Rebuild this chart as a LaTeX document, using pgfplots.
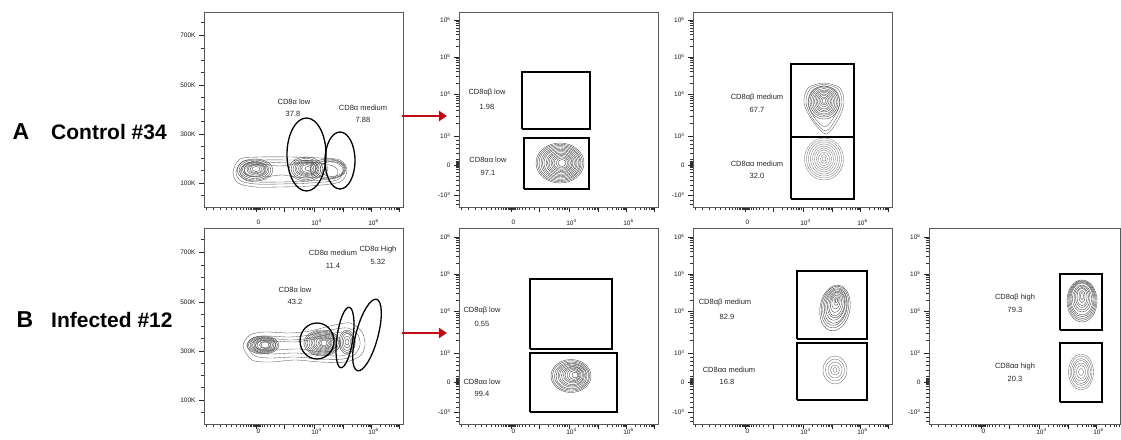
\documentclass[border=0pt]{standalone}
\usepackage{fontspec}
\setmainfont{Liberation Sans}
\usepackage{pgfplots}
\pgfplotsset{compat=1.18}
\usetikzlibrary{arrows.meta}

\pgfdeclareplotmark{ell}{%
  \pgfmathsetmacro\ecx{\elA*cos(\elR)}%
  \pgfmathsetmacro\ecy{\elA*sin(\elR)}%
  \pgfmathsetmacro\edx{-\elB*sin(\elR)}%
  \pgfmathsetmacro\edy{\elB*cos(\elR)}%
  \pgfpathellipse{\pgfpointorigin}{\pgfpoint{\ecx pt}{\ecy pt}}{\pgfpoint{\edx pt}{\edy pt}}%
  \pgfusepathqstroke}

\tikzset{lab/.style={font=\fontsize{7.5}{8}\selectfont, text=black!85, inner sep=0pt}}

\pgfplotsset{
  flowax/.style={scale only axis, anchor=north west, xmin=0, ymin=0,
    axis line style={black!65, line width=0.9pt},
    tick align=outside, xtick pos=left, ytick pos=left,
    major tick length=5pt, minor tick length=3pt,
    every tick/.append style={black!85, line width=0.6pt},
    every minor tick/.append style={black!80, line width=0.45pt},
    tick label style={font=\fontsize{6.5}{7}\selectfont, text=black!90},
    xticklabel style={xshift=2.5pt, yshift=-4pt},
    xtick={52,80,110,139,167,195},
    xticklabels={0,,10\textsuperscript{4},,10\textsuperscript{6},},
    minor xtick={2,9,16,22,27,32,36,39,42,44,46,47.5,49,50,51,53,54,55,56.5,58,60,63,66,70,75,
      88.9,94.1,97.8,100.6,103,104.9,106.6,108.1,
      118.9,124.1,127.8,130.6,133,134.9,136.6,138.1,
      147.9,153.1,156.8,159.6,162,163.9,165.6,166.5,
      175.9,181.1,184.8,187.6,190,191.9,193.6,194.5},
    clip=false},
  rowB/.style={xticklabel style={yshift=5.5pt, inner sep=1pt}},
  ylogstyle/.style={ytick={12,42,71,113,150,187},
    yticklabels={-10\textsuperscript{3},0,10\textsuperscript{3},10\textsuperscript{4},10\textsuperscript{5},10\textsuperscript{6}},
    minor ytick={3,7,17,22,27,31,35,38,39.5,40.5,41.3,42.7,43.5,44.5,46,48,54,59,63,67,
      83.6,91.1,96.3,100.4,103.7,106.5,108.9,111.1,
      124.1,130.6,135.3,138.9,141.8,144.3,146.4,148.3,
      161.1,167.6,172.3,175.9,178.8,181.3,183.4,185.3}},
  ylinstyle/.style={ytick={24,73,122,172}, yticklabels={100K,300K,500K,700K},
    minor ytick={11.7,36.3,48.5,60.8,85.3,97.5,109.8,134.5,146.8,159,184.3}},
  cont/.style={scatter, only marks, mark=ell, point meta=x,
    scatter/@pre marker code/.code={}, scatter/@post marker code/.code={},
    visualization depends on={\thisrow{a}\as\elA},
    visualization depends on={\thisrow{b}\as\elB},
    visualization depends on={\thisrow{r}\as\elR},
    draw=black!72, line width=0.38pt},
  gate/.style={cont, draw=black, line width=1.3pt},
  env/.style={smooth cycle, draw=black!65, line width=0.35pt, mark=none},
  gaterect/.style={draw=black, line width=1.15pt, mark=none}
}

\begin{document}
\begin{tikzpicture}
\path[use as bounding box] (0pt,0pt) rectangle (1121pt,-439pt);

% Row labels
\node[font=\fontsize{23}{23}\selectfont\bfseries, inner sep=0pt] at (21pt,-132pt) {A};
\node[font=\fontsize{21}{21}\selectfont\bfseries, inner sep=0pt, anchor=west] at (51pt,-132pt) {Control \#34};
\node[font=\fontsize{23}{23}\selectfont\bfseries, inner sep=0pt] at (25pt,-320pt) {B};
\node[font=\fontsize{21}{21}\selectfont\bfseries, inner sep=0pt, anchor=west] at (51pt,-320pt) {Infected \#12};

% ---------------- A1
\begin{axis}[flowax, ylinstyle, at={(204pt,-12pt)}, width=199pt, height=195pt, xmax=199, ymax=195]
\addplot[env] coordinates {(29,35) (36,48) (56,50) (86,50) (116,49) (136,47) (143,37) (136,25) (106,21) (76,20) (51,20) (34,24)};
\addplot[env] coordinates {(32,35) (39,46) (56,47) (86,47) (116,46) (133,44) (139,37) (133,27) (106,24) (76,23) (52,23) (37,26)};
\addplot[env] coordinates {(36,36) (43,44) (58,45) (86,44) (114,44) (129,41) (134,36) (129,29) (106,26) (76,25) (54,25) (41,27)};
\addplot[env] coordinates {(40,36) (46,43) (58,43) (76,41) (96,44) (116,44) (124,39) (118,31) (100,29) (78,32) (60,30) (45,31)};
\addplot[cont] table {
x y a b r
51 37 18 11 0
51 37 16 10 0
51 37 14 8.5 0
51 37.5 12.5 7.5 0
51 37.5 11 6.8 0
52 37.5 9 5.5 0
52 38 7.5 4.5 0
52 38 6 3.8 0
52 38 4 2.5 0
102 38 17 12 0
102 38 15 10.5 0
102 38 13 9 0
102.5 38.5 11.5 8 0
102.5 38.5 10 7 0
103 38.5 8.5 6 0
103 38.5 7 5 0
103 38.5 5.5 4 0
104 38.5 3 2 0
124 38 18 10 0
126 38 15 9 0
128 38 12 7.5 0
};
\addplot[gate] table {
x y a b r
102.5 52.5 19.5 36.5 0
136 46.5 15 28.5 0
};
\node[lab] at (axis cs:90,105) {CD8α low};
\node[lab] at (axis cs:89,93) {37.8};
\node[lab] at (axis cs:159,99) {CD8α medium};
\node[lab] at (axis cs:159,87) {7.88};
\end{axis}

% ---------------- A2
\begin{axis}[flowax, ylogstyle, at={(459pt,-12pt)}, width=199pt, height=195pt, xmax=199, ymax=195]
\addplot[cont] table {
x y a b r
101 44 24 20 0
101 44 22.5 18.8 0
101 44 21 17.5 0
101.5 44 19.5 16.3 0
101.5 44 18 15 0
101.5 44 16.5 13.8 0
102 44 15 12.5 0
102 44 13.5 11.3 0
102 44 12 10 0
102.5 44 10.5 8.8 0
102.5 44 9 7.5 0
102.5 44 7.5 6.3 0
103 44 6 5 0
103 44 4 3.5 0
};
\addplot[gaterect] coordinates {(63,78) (131,78) (131,135) (63,135) (63,78)};
\addplot[gaterect] coordinates {(65,18) (130,18) (130,69) (65,69) (65,18)};
\node[lab] at (axis cs:28,114) {CD8αβ low};
\node[lab] at (axis cs:28,100) {1.98};
\node[lab] at (axis cs:29,47) {CD8αα low};
\node[lab] at (axis cs:29,34) {97.1};
\end{axis}

% ---------------- A3
\begin{axis}[flowax, ylogstyle, at={(693pt,-12pt)}, width=199pt, height=195pt, xmax=199, ymax=195]
\addplot[env] coordinates {(111,104) (115,119) (131,124) (147,119) (151,104) (145,87) (133,73) (119,87)};
\addplot[env] coordinates {(113,104) (117,118) (131,122.5) (145,118) (149,104) (143,88) (132.5,76) (120,88)};
\addplot[env] coordinates {(115,104) (119,116.5) (131,121) (143,116.5) (147,104) (141,90) (132,80) (121,90)};
\addplot[cont] table {
x y a b r
131 104.5 15.5 16.5 0
131 105 14 15 0
131 105 12.5 13.5 0
131 105 11 12 0
131 105.5 9.5 10.5 0
131 105.5 8 9 0
131 105.5 6.5 7.5 0
131 106 5 6 0
131 106 3.5 4 0
131 106 2 2.5 0
};
\addplot[cont, draw=black!50] table {
x y a b r
131 48 19.5 21 0
131 48 17.5 19 0
131 48 15.5 17 0
131 48 13.5 15 0
131 48 11.5 13 0
131 48 9.5 11 0
131 48 7.5 9 0
131 48 5.5 6.5 0
131 48 3.5 4.5 0
131 48 1.8 2.2 0
};
\addplot[gaterect] coordinates {(98,70) (161,70) (161,143) (98,143) (98,70)};
\addplot[gaterect] coordinates {(98,8) (161,8) (161,70) (98,70) (98,8)};
\node[lab] at (axis cs:64,109) {CD8αβ medium};
\node[lab] at (axis cs:64,97) {67.7};
\node[lab] at (axis cs:64,43) {CD8αα medium};
\node[lab] at (axis cs:64,31) {32.0};
\end{axis}

% ---------------- B1
\begin{axis}[flowax, rowB, ylinstyle, at={(204pt,-228pt)}, width=199pt, height=196pt, xmax=199, ymax=196]
\addplot[env] coordinates {(39,78) (46,89) (61,92) (86,91) (106,93) (126,98) (146,101) (158,92) (161,79) (156,68) (141,62) (116,62) (91,64) (66,62) (48,64)};
\addplot[env] coordinates {(43,78) (49,86) (62,88) (86,87) (106,89) (126,94) (144,96) (154,89) (156,79) (151,70) (139,65) (116,65) (91,67) (66,66) (51,68)};
\addplot[env] coordinates {(47,79) (53,85) (64,86) (86,84) (108,86) (126,90) (141,92) (150,86) (151,78) (146,71) (136,68) (116,69) (91,71) (66,70) (54,72)};
\addplot[env] coordinates {(51,78) (57,83) (70,83) (90,82) (105,84) (120,86) (132,85) (137,80) (133,74) (118,72) (95,75) (72,74) (57,74)};
\addplot[cont] table {
x y a b r
59 79 16 9 0
59 79 14.5 8.2 0
59 79 13 7.5 0
60 79 11.5 6.8 0
60 79 10 6 0
60 79 8.5 5.2 0
60 79 7 4.5 0
61 79 5.5 3.7 0
61 79 4 3 0
118 81 18 13 0
118 81 16.5 12 0
118 81 15 11 0
118.5 81 13.5 10 0
119 81 12 9 0
119 81 10.5 8 0
119 81 9 7 0
119.5 81 7.5 6 0
120 81 6 5 0
120 81 4.5 4 0
120 81 3 3 0
143 82 8 12 0
143 82 6.5 10.5 0
143 82 5 8.5 0
143 82 3.5 6 0
143 82 2 3 0
};
\addplot[gate] table {
x y a b r
113 83 17 18 0
141 86.5 8 30.5 -8
163 89 11 37 -15
};
\node[lab] at (axis cs:91,134) {CD8α low};
\node[lab] at (axis cs:91,122) {43.2};
\node[lab] at (axis cs:129,171) {CD8α medium};
\node[lab] at (axis cs:129,158) {11.4};
\node[lab] at (axis cs:174,174) {CD8α High};
\node[lab] at (axis cs:174,162) {5.32};
\end{axis}

% ---------------- B2
\begin{axis}[flowax, rowB, ylogstyle, at={(459pt,-228pt)}, width=199pt, height=196pt, xmax=199, ymax=196]
\addplot[cont] table {
x y a b r
112 48 20 16.5 0
112 48 18.5 15.3 0
112.5 48 17 14 0
112.5 48 15.5 12.8 0
113 48.5 14 11.6 0
113 48.5 12.5 10.4 0
113.5 48.5 11 9.2 0
114 49 9.5 8 0
114 49 8 6.8 0
114.5 49 6.5 5.6 0
115 49 5 4.4 0
116 49 3 2.8 0
};
\addplot[gaterect] coordinates {(71,75) (153,75) (153,145) (71,145) (71,75)};
\addplot[gaterect] coordinates {(71,12) (158,12) (158,71) (71,71) (71,12)};
\node[lab] at (axis cs:23,113) {CD8αβ low};
\node[lab] at (axis cs:23,100) {0.55};
\node[lab] at (axis cs:23,42) {CD8αα low};
\node[lab] at (axis cs:23,30) {99.4};
\end{axis}

% ---------------- B3
\begin{axis}[flowax, rowB, ylogstyle, at={(693pt,-228pt)}, width=199pt, height=196pt, xmax=199, ymax=196]
\addplot[cont] table {
x y a b r
142 116 15 23 -10
142 117 13.5 21 -10
142 117.5 12 19 -10
142.5 118 11 17.5 -10
142.5 119 9.5 15.5 -10
143 119.5 8.5 13.5 -10
143 120 7 12 -10
143 121 5.5 9.5 -10
143 122 4 7 -10
143.5 123 2.5 4.5 -10
143.5 123.5 1.2 2.2 -10
};
\addplot[cont, draw=black!55] table {
x y a b r
142 54 12 14 0
142 54 9.5 11 0
142 54 7 8 0
142 54 4.5 5 0
142 54 2 2.5 0
};
\addplot[gaterect] coordinates {(104,85) (174,85) (174,153) (104,153) (104,85)};
\addplot[gaterect] coordinates {(104,24) (174,24) (174,81) (104,81) (104,24)};
\node[lab] at (axis cs:32,121) {CD8αβ medium};
\node[lab] at (axis cs:34,107) {82.9};
\node[lab] at (axis cs:36,54) {CD8αα medium};
\node[lab] at (axis cs:34,42) {16.8};
\end{axis}

% ---------------- B4
\begin{axis}[flowax, rowB, ylogstyle, at={(929pt,-228pt)}, width=191pt, height=196pt, xmax=191, ymax=196,
  xtick={52,80,110,139,167}, xticklabels={0,,10\textsuperscript{4},,10\textsuperscript{6}}]
\addplot[cont] table {
x y a b r
153 123 15 21 0
153 123.5 14 19.7 0
153 124 13 18.5 0
153 124.5 12 17.2 0
153 125 11 16 0
153 125.5 9.5 13.5 0
153 126 8 12 0
153 126.5 6.5 10 0
153 127 5 8.5 0
153 127.5 3 6 0
153 128 1.5 3.5 0
};
\addplot[cont, draw=black!55] table {
x y a b r
152 52 12.5 18 0
152 52 11 16 0
152 52 9.5 13.5 0
152 52 8 11.5 0
152 52 6.5 9 0
152 52 4.5 6.5 0
152 52 2.5 3.5 0
};
\addplot[gaterect] coordinates {(131,94) (173,94) (173,150) (131,150) (131,94)};
\addplot[gaterect] coordinates {(131,22) (173,22) (173,81) (131,81) (131,22)};
\node[lab] at (axis cs:86,126) {CD8αβ high};
\node[lab] at (axis cs:86,114) {79.3};
\node[lab] at (axis cs:86,57) {CD8αα high};
\node[lab] at (axis cs:86,45) {20.3};
\end{axis}

% red arrows
\draw[-{Triangle[width=10pt,length=8pt]}, line width=2.6pt, color={rgb,255:red,192;green,10;blue,20}] (402pt,-116pt) -- (447pt,-116pt);
\draw[-{Triangle[width=10pt,length=8pt]}, line width=2.6pt, color={rgb,255:red,192;green,10;blue,20}] (402pt,-333pt) -- (447pt,-333pt);
\end{tikzpicture}
\end{document}
